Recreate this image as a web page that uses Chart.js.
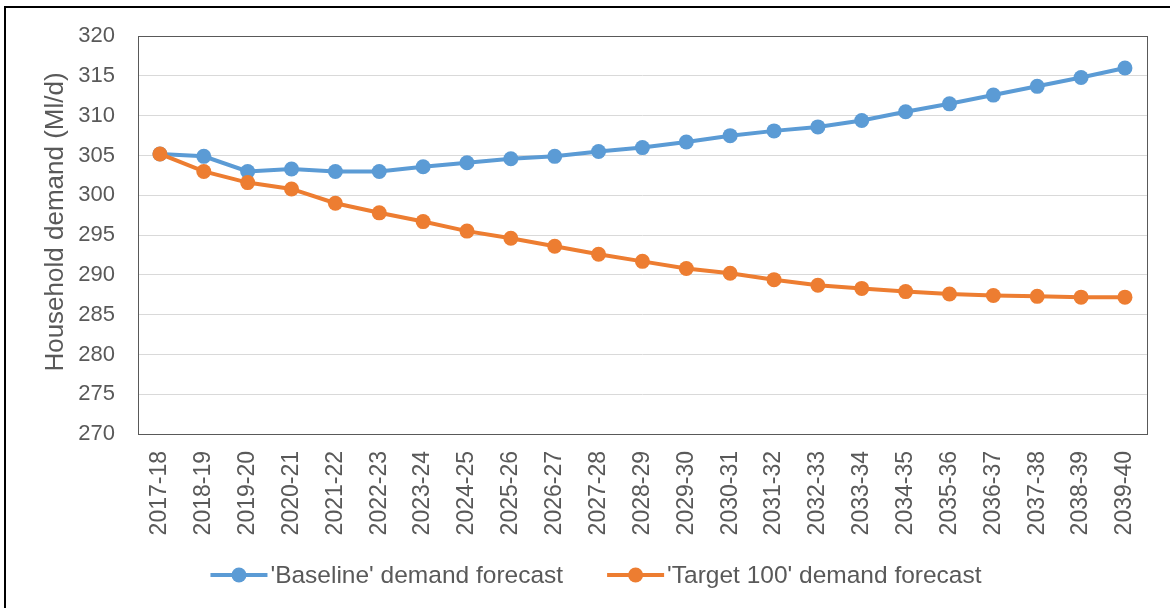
<!DOCTYPE html>
<html>
<head>
<meta charset="utf-8">
<title>Household demand forecast</title>
<script src="https://cdn.jsdelivr.net/npm/chart.js@4"></script>
<style>
  html, body { margin: 0; padding: 0; background: #fff; overflow: hidden; }
  #frame {
    position: absolute; left: 4px; top: 6px; width: 2000px; height: 2000px;
    border-top: 2px solid #000; border-left: 2px solid #000;
  }
  #wrap { position: absolute; left: 0; top: 0; width: 1170px; height: 608px; }
</style>
</head>
<body>
<div id="frame"></div>
<div id="wrap"><canvas id="chart" width="1170" height="608"></canvas></div>
<script>
// Financial years on the category axis
const years = [
  '2017-18', '2018-19', '2019-20', '2020-21', '2021-22', '2022-23', '2023-24',
  '2024-25', '2025-26', '2026-27', '2027-28', '2028-29', '2029-30', '2030-31',
  '2031-32', '2032-33', '2033-34', '2034-35', '2035-36', '2036-37', '2037-38',
  '2038-39', '2039-40'
];

// Household demand, Ml/d
const baselineDemand = [
  305.2, 304.9, 303.0, 303.3, 303.0, 303.0, 303.6, 304.1, 304.6, 304.9, 305.5,
  306.0, 306.7, 307.5, 308.1, 308.6, 309.4, 310.5, 311.5, 312.6, 313.7, 314.8, 316.0
];
const target100Demand = [
  305.2, 303.0, 301.6, 300.8, 299.0, 297.8, 296.7, 295.5, 294.6, 293.6, 292.6,
  291.7, 290.8, 290.2, 289.4, 288.7, 288.3, 287.9, 287.6, 287.4, 287.3, 287.2, 287.2
];

const seriesNames = ["'Baseline' demand forecast", "'Target 100' demand forecast"];
const yAxisTitle = 'Household demand (Ml/d)';
const yMin = 270, yMax = 320, yStep = 5;

const BLUE = '#5B9BD5';
const ORANGE = '#ED7D31';
const TEXT = '#595959';
const FONT = '"Liberation Sans", Arial, sans-serif';

// Frame around the plotting area
const plotFrame = {
  id: 'plotFrame',
  beforeDatasetsDraw(chart) {
    const a = chart.chartArea, ctx = chart.ctx;
    ctx.save();
    ctx.strokeStyle = '#595959';
    ctx.lineWidth = 1;
    ctx.strokeRect(Math.round(a.left) + 0.5, Math.round(a.top) + 0.5,
                   Math.round(a.right - a.left), Math.round(a.bottom - a.top));
    ctx.restore();
  }
};

// Vertical axis title, set slightly above the plot's middle
const axisTitle = {
  id: 'axisTitle',
  afterDraw(chart) {
    const ctx = chart.ctx;
    ctx.save();
    ctx.translate(56, 222);
    ctx.rotate(-Math.PI / 2);
    ctx.font = '26px ' + FONT;
    ctx.fillStyle = TEXT;
    ctx.textAlign = 'center';
    ctx.textBaseline = 'middle';
    ctx.fillText(yAxisTitle, 0, 0);
    ctx.restore();
  }
};

// Legend entries: a short line with a marker, followed by the series name
const lineLegend = {
  id: 'lineLegend',
  afterDraw(chart) {
    const ctx = chart.ctx;
    const y = 575, symW = 57, gap = 3, spacing = 44, centre = 596;
    ctx.save();
    ctx.font = '24.5px ' + FONT;
    const items = chart.data.datasets.map(ds => ({
      ds, w: symW + gap + ctx.measureText(ds.label).width
    }));
    const total = items.reduce((s, it) => s + it.w, 0) + spacing * (items.length - 1);
    let x = centre - total / 2;
    items.forEach(({ ds, w }) => {
      ctx.strokeStyle = ds.borderColor;
      ctx.lineWidth = 4;
      ctx.beginPath();
      ctx.moveTo(x, y);
      ctx.lineTo(x + symW, y);
      ctx.stroke();
      ctx.fillStyle = ds.backgroundColor;
      ctx.beginPath();
      ctx.arc(x + symW / 2, y, 7.5, 0, Math.PI * 2);
      ctx.fill();
      ctx.fillStyle = TEXT;
      ctx.textAlign = 'left';
      ctx.textBaseline = 'middle';
      ctx.fillText(ds.label, x + symW + gap, y + 1);
      x += w + spacing;
    });
    ctx.restore();
  }
};

new Chart(document.getElementById('chart'), {
  type: 'line',
  data: {
    labels: years,
    datasets: [
      {
        label: seriesNames[0],
        data: baselineDemand,
        borderColor: BLUE,
        backgroundColor: BLUE,
        borderWidth: 4,
        pointRadius: 7.5,
        pointBorderWidth: 0,
        pointBackgroundColor: BLUE,
        tension: 0,
        order: 1
      },
      {
        label: seriesNames[1],
        data: target100Demand,
        borderColor: ORANGE,
        backgroundColor: ORANGE,
        borderWidth: 4,
        pointRadius: 7.5,
        pointBorderWidth: 0,
        pointBackgroundColor: ORANGE,
        tension: 0,
        order: 0
      }
    ]
  },
  options: {
    responsive: false,
    animation: false,
    layout: { padding: { top: 35, right: 21, bottom: 0, left: 0 } },
    plugins: {
      legend: { display: false },
      tooltip: { enabled: false }
    },
    scales: {
      x: {
        offset: true,
        grid: { display: false, drawTicks: false },
        border: { display: false },
        ticks: {
          color: TEXT,
          font: { family: FONT, size: 23 },
          minRotation: 90,
          maxRotation: 90,
          padding: 17,
          autoSkip: false
        },
        afterFit(scale) { scale.height = 174; }
      },
      y: {
        min: yMin,
        max: yMax,
        grid: { color: '#D9D9D9', lineWidth: 1, drawTicks: false },
        border: { display: false },
        ticks: {
          stepSize: yStep,
          color: TEXT,
          font: { family: FONT, size: 22 },
          padding: 23
        },
        afterFit(scale) { scale.width = 138; }
      }
    }
  },
  plugins: [plotFrame, axisTitle, lineLegend]
});
</script>
</body>
</html>
